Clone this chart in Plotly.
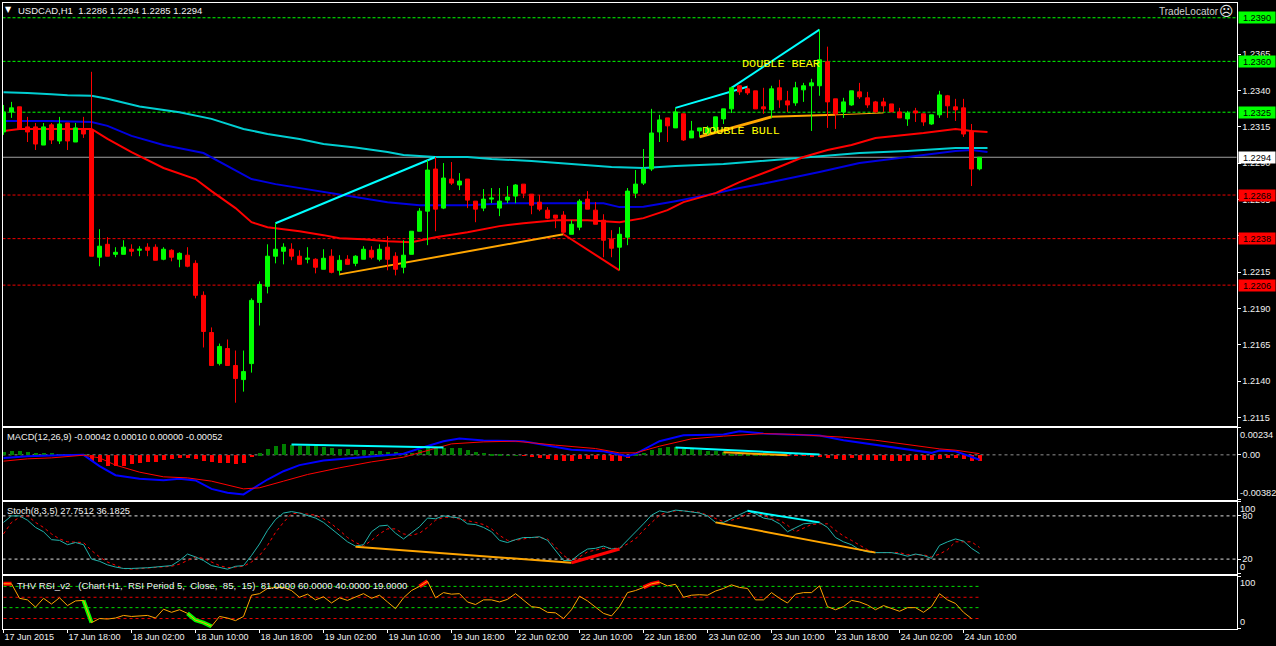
import plotly.graph_objects as go

# ---- prices, in units of 0.0001 ----
open_p = [12311.4,12325.2,12328.7,12314.9,12314.9,12302.4,12316.3,12305.2,12317.6,12304.5,
 12312.8,12312.8,12225.2,12234.1,12227.2,12227.2,12230.7,12230.0,12232.1,12232.1,
 12223.8,12230.0,12223.8,12226.6,12221.0,12199.0,12173.4,12152.0,12162.4,12150.7,
 12141.0,12152.0,12194.1,12205.2,12225.9,12229.3,12230.7,12225.9,12223.8,12223.8,
 12216.9,12225.9,12216.2,12223.8,12221.0,12223.8,12230.0,12223.8,12232.1,12225.9,
 12218.3,12227.2,12243.1,12256.9,12285.9,12259.0,12279.0,12274.9,12279.0,12263.8,
 12259.0,12265.2,12259.0,12264.5,12267.3,12275.5,12268.6,12263.1,12257.6,12254.2,
 12254.2,12241.0,12245.9,12265.2,12257.6,12250.7,12237.6,12232.1,12239.0,12269.3,
 12276.2,12285.9,12311.4,12321.1,12314.2,12323.9,12307.3,12312.1,12310.7,12312.8,
 12320.4,12327.3,12343.2,12341.1,12339.7,12328.7,12326.6,12341.8,12332.8,12331.4,
 12340.4,12343.2,12343.2,12359.7,12334.2,12325.2,12330.0,12339.0,12334.9,12332.1,
 12332.1,12330.7,12325.2,12320.4,12325.9,12323.9,12316.9,12323.2,12336.3,12328.7,
 12328.0,12312.1,12286.0]
high_p = [12330.0,12332.1,12328.7,12321.8,12317.6,12317.6,12317.6,12321.8,12317.6,12317.6,
 12321.8,12352.8,12244.5,12239.0,12232.1,12236.9,12234.1,12232.8,12234.8,12234.1,
 12232.1,12230.7,12228.6,12232.1,12223.1,12201.7,12176.9,12165.8,12168.6,12161.0,
 12161.0,12196.9,12208.6,12234.1,12248.6,12234.8,12234.8,12230.0,12232.1,12224.5,
 12230.7,12230.7,12226.6,12226.6,12226.6,12232.8,12232.8,12234.1,12239.7,12228.6,
 12236.9,12243.1,12259.0,12292.1,12294.2,12290.0,12290.7,12283.1,12279.0,12263.8,
 12272.1,12272.8,12272.8,12274.2,12275.5,12275.5,12268.6,12268.0,12259.7,12254.2,
 12256.9,12250.7,12265.2,12270.7,12263.1,12254.8,12243.8,12245.9,12272.8,12285.2,
 12299.7,12327.3,12323.2,12321.1,12328.0,12323.9,12319.0,12314.2,12315.6,12321.8,
 12327.3,12342.5,12343.2,12343.2,12339.7,12341.8,12343.2,12347.3,12339.7,12345.9,
 12345.2,12348.0,12381.8,12370.1,12334.2,12334.9,12339.7,12345.2,12339.0,12332.8,
 12334.9,12330.7,12328.0,12325.9,12328.0,12323.9,12323.2,12339.7,12336.9,12334.2,
 12334.2,12316.9,12294.0]
low_p = [12309.4,12321.1,12313.5,12304.5,12299.0,12302.4,12303.1,12303.1,12299.0,12304.5,
 12307.3,12225.9,12219.0,12225.9,12225.2,12227.2,12225.9,12225.9,12225.9,12223.1,
 12223.1,12222.4,12218.3,12218.3,12196.9,12163.1,12150.7,12150.7,12150.7,12125.1,
 12132.7,12145.8,12178.2,12200.3,12221.0,12220.3,12223.1,12220.3,12221.0,12214.1,
 12216.9,12214.1,12212.7,12220.3,12219.0,12223.8,12223.8,12222.4,12216.2,12212.7,
 12214.1,12227.2,12243.1,12233.5,12243.1,12258.3,12274.9,12271.4,12259.0,12249.3,
 12256.9,12262.4,12253.5,12262.4,12262.4,12265.9,12254.8,12256.9,12251.4,12245.2,
 12241.0,12241.0,12243.8,12258.3,12247.9,12225.2,12225.2,12216.2,12233.5,12265.9,
 12274.9,12284.5,12304.5,12304.5,12314.2,12305.2,12307.3,12308.0,12309.4,12311.4,
 12316.9,12324.5,12336.9,12336.9,12327.3,12323.9,12321.1,12328.0,12325.2,12329.4,
 12332.1,12312.1,12336.3,12314.2,12313.5,12321.1,12329.4,12334.2,12328.0,12324.5,
 12325.2,12325.2,12321.1,12315.6,12318.3,12315.6,12316.3,12321.1,12321.1,12319.0,
 12308.0,12274.2,12285.0]
close_p = [12325.2,12328.0,12313.5,12311.4,12303.1,12314.9,12305.9,12316.9,12305.2,12314.2,
 12310.0,12225.9,12232.8,12225.9,12228.6,12232.1,12229.3,12230.7,12230.0,12223.1,
 12230.7,12225.2,12227.9,12219.0,12199.0,12174.1,12150.7,12163.8,12150.7,12141.7,
 12146.5,12195.5,12206.5,12225.9,12230.7,12232.1,12225.9,12220.3,12224.5,12218.3,
 12224.5,12214.8,12223.1,12220.3,12225.9,12230.7,12225.2,12230.7,12223.8,12216.9,
 12226.6,12243.1,12256.9,12285.2,12258.3,12279.7,12276.2,12277.6,12264.5,12258.3,
 12265.2,12265.9,12263.8,12266.6,12274.9,12269.3,12261.0,12258.3,12252.1,12252.1,
 12242.4,12247.9,12263.8,12258.3,12247.9,12236.9,12231.4,12241.0,12270.7,12275.5,
 12285.9,12310.7,12319.7,12315.6,12325.2,12305.9,12312.1,12314.2,12314.2,12321.8,
 12327.3,12341.8,12339.0,12338.3,12327.3,12327.3,12341.1,12333.5,12330.0,12341.8,
 12343.2,12345.2,12361.1,12332.1,12323.9,12332.1,12339.7,12335.6,12330.0,12325.2,
 12329.4,12325.2,12321.1,12324.5,12324.5,12318.3,12323.2,12336.9,12329.4,12326.6,
 12310.0,12285.9,12294.0]

ma_long_bars = [0,3,6,8,11,13,17,22,26,30,33,37,40,44,48,50,54,58,61,66,71,76,80,84,90,98,102,107,113,119,123]
ma_long = [12338.7,12338.3,12337.3,12336.6,12336.3,12334.2,12329.0,12324.9,12320.4,12313.5,12310.0,12306.6,12303.1,12300.7,12297.6,12295.5,12294.2,12294.2,12292.8,12291.4,12289.3,12287.3,12286.6,12287.9,12289.3,12292.8,12294.9,12296.9,12298.3,12300.4,12300.4]
ma_mid_bars = [0,6,11,13,16,20,25,28,31,34,38,40,44,48,52,58,63,69,75,77,80,84,88,92,96,102,107,113,119,121,123]
ma_mid = [12319.0,12319.0,12318.3,12315.6,12308.7,12302.4,12296.9,12287.9,12279.0,12275.5,12272.1,12270.0,12266.6,12263.1,12261.0,12261.0,12262.4,12262.4,12262.4,12259.7,12260.0,12263.8,12268.0,12272.8,12276.9,12283.8,12290.0,12294.2,12298.3,12299.0,12297.6]
ma_fast_bars = [0,2,11,13,16,20,24,26,29,31,33,37,40,42,45,48,51,54,58,62,65,69,73,77,80,83,85,89,92,96,100,103,106,109,115,119,121,123]
ma_fast = [12312.1,12313.5,12313.5,12306.6,12297.6,12286.6,12279.0,12270.7,12259.0,12249.3,12245.9,12243.1,12240.4,12238.3,12237.6,12236.2,12235.5,12239.0,12242.4,12246.6,12248.6,12250.7,12250.7,12249.3,12252.1,12257.6,12263.1,12269.3,12276.9,12285.2,12294.2,12299.0,12302.4,12307.3,12310.7,12313.5,12312.1,12311.4]

# trend segments: (first bar, last bar, first price, last price, colour, width)
price_segments = [
 (34,54,12248.6,12294.2,"#00ffff",2),
 (84,93,12328.0,12342.5,"#00ffff",2),
 (91,102,12341.8,12381.8,"#00ffff",2),
 (42,70,12213.4,12241.0,"#ffa500",2),
 (70,77,12241.0,12216.2,"#ff0000",2),
 (87,96,12308.0,12321.8,"#ffa500",3),
 (96,104,12321.8,12323.2,"#ffa500",2),
 (104,110,12323.2,12324.5,"#ffa500",1),
]

resistance_levels = [1.2390,1.2360,1.2325]
support_levels = [1.2268,1.2238,1.2206]
last_price = 1.2294
price_ticks = [1.2115,1.2140,1.2165,1.2190,1.2215,1.2240,1.2265,1.2290,1.2315,1.2340,1.2365]
date_labels = ["17 Jun 2015","17 Jun 18:00","18 Jun 02:00","18 Jun 10:00","18 Jun 18:00","19 Jun 02:00","19 Jun 10:00","19 Jun 18:00","22 Jun 02:00","22 Jun 10:00","22 Jun 18:00","23 Jun 02:00","23 Jun 10:00","23 Jun 18:00","24 Jun 02:00","24 Jun 10:00"]
date_bars = list(range(0,128,8))

# MACD, in units of 0.00001
macd_hist = [31,37,37,26,17,17,17,9,9,9,6,-48,-60,-88,-88,-88,-74,-63,-60,-54,-40,-31,-23,-23,-31,-46,-60,-63,-66,-74,-66,-11,
 17,54,80,97,88,80,80,80,71,63,54,54,46,46,37,37,31,29,20,20,46,60,60,60,66,60,46,26,20,11,9,3,1,-3,-14,-20,-31,-40,-46,-46,
 -31,-31,-31,-40,-46,-46,-20,11,23,46,60,71,71,57,51,46,40,37,26,14,9,6,3,3,3,3,-1,-3,-3,-6,-6,-20,-31,-40,-26,-40,-40,-43,-40,
 -46,-46,-46,-40,-40,-40,-29,-20,-23,-31,-46,-52]
macd_bars = [0,3,6,10,12,14,17,20,22,24,26,28,30,31,33,35,37,40,43,46,50,52,55,57,60,65,69,71,75,78,79,82,85,90,92,95,98,102,105,109,113,116,117,119,122]
macd_line = [-26,-11,-6,0,-97,-174,-205,-217,-205,-219,-291,-325,-339,-296,-211,-140,-88,-48,-31,-11,9,54,117,140,123,117,66,43,31,-11,9,117,168,174,202,182,174,165,125,88,46,17,37,31,-42]
signal_bars = [0,3,6,10,12,14,17,20,23,26,30,32,35,38,42,46,50,52,56,60,64,69,74,77,79,82,86,90,95,99,105,109,113,117,119,122]
signal_line = [-54,-34,-26,-3,-26,-88,-148,-188,-197,-225,-291,-282,-225,-168,-111,-60,-20,17,94,111,117,83,54,17,17,74,137,160,182,174,151,125,88,51,40,10]
macd_segments = [(36,55,88,63,"#00ffff",2),(84,102,62,3,"#00ffff",2),(90,98,22,-3,"#ffa500",2)]

stoch_main = [71,80,80,74,64,58,47,46,40,43,40,20,17,12,9,7,7,7,8,9,10,11,18,27,23,18,11,9,6,10,11,25,41,60,75,84,86,84,80,77,71,62,54,44,38,40,58,66,67,56,48,57,65,
 77,76,80,78,77,69,68,64,58,46,43,47,50,50,51,46,32,18,18,27,34,35,38,34,35,46,57,69,81,87,85,88,87,86,84,80,71,71,76,81,87,83,77,75,69,58,64,69,70,71,64,50,
 44,40,33,30,29,29,29,27,24,27,25,21,39,44,48,45,35,27.75]
stoch_signal = [55,71,78,80,71,64,55,48,44,43,43,32,23,16,11,7,6,7,7,9,9,10,13,18,23,21,16,11,8,9,10,16,25,39,57,71,83,84,83,81,76,69,60,50,43,38,46,55,62,62,55,53,56,
 64,74,78,78,76,74,71,68,62,53,46,46,48,50,50,48,37,25,18,23,30,33,35,35,35,41,48,60,71,81,85,87,87,86,85,81,76,72,74,77,83,84,81,76,74,67,58,63,68,69,69,60,
 52,46,40,33,29,29,29,29,26,26,26,23,27,33,44,44,44,36.18]
stoch_levels = [80,20]
stoch_segments = [(44,71,37,15,"#ffa500",2),(71,77,15,34,"#ff0000",3),(89,109,71,29,"#ffa500",2),(93,102,87,71,"#00ffff",2)]

rsi_line = [86,86,58,55,41,58,47,59,44,53,54,11,19,18,20,25,23,24,25,20,37,31,36,29,16,11,4,23,20,15,23,64,67,77,79,79,73,60,66,55,61,49,59,54,60,67,58,64,51,38,59,73,81,
 91,59,69,66,67,51,46,55,55,51,56,67,55,42,40,31,30,19,36,62,53,41,29,24,42,69,73,79,86,89,82,85,60,64,65,64,72,77,84,79,77,55,55,69,58,49,66,69,69,82,42,36,
 42,54,51,45,36,44,39,33,40,40,31,42,67,55,48,31,19]
rsi_levels = [81,60,40,19]
rsi_level_colours = ["#00e000","#f00000","#00e000","#f00000"]
rsi_hot = [(0,1,"#ff0000"),(52,53,"#ff0000"),(80,82,"#ff0000"),(10,11,"#00ff00"),(23,26,"#00ff00")]

FONT = "Liberation Sans"
TXT = "#f0f0f0"
L, R = 2.5, 1236.5
def ydom(top, bottom):
    return [1 - bottom/646, 1 - top/646]
def px(v):
    return [a/1e4 for a in v]

bars = list(range(len(close_p)))
XR = [-0.125, 154.125]
fig = go.Figure()

def line(x, y, color, width, xa="x", ya="y", dash=None, shape=None):
    fig.add_trace(go.Scatter(x=x, y=y, mode="lines", xaxis=xa, yaxis=ya, showlegend=False, hoverinfo="skip",
                             line=dict(color=color, width=width, dash=dash, shape=shape)))

# main panel
line(ma_long_bars, px(ma_long), "#00ced1", 2)
line(ma_mid_bars, px(ma_mid), "#0000e0", 2)
line(ma_fast_bars, px(ma_fast), "#ff0000", 2)
for b0, b1, p0, p1, c, w in price_segments:
    line([b0, b1], px([p0, p1]), c, w)
fig.add_trace(go.Candlestick(x=bars, open=px(open_p), high=px(high_p), low=px(low_p), close=px(close_p),
    xaxis="x", yaxis="y5", showlegend=False, hoverinfo="skip", whiskerwidth=0,
    increasing=dict(line=dict(color="#00ff00", width=1), fillcolor="#00ff00"),
    decreasing=dict(line=dict(color="#ff0000", width=1), fillcolor="#ff0000")))

# MACD
hist = [v*1e-5 for v in macd_hist]
fig.add_trace(go.Bar(x=bars, y=hist, xaxis="x2", yaxis="y2", width=0.42, showlegend=False, hoverinfo="skip",
                     marker=dict(color=["#008000" if v > 0 else "#ff0000" for v in hist], line=dict(width=0))))
line(macd_bars, [v*1e-5 for v in macd_line], "#0000ff", 2, "x2", "y2")
line(signal_bars, [v*1e-5 for v in signal_line], "#ff0000", 1, "x2", "y2")
for b0, b1, p0, p1, c, w in macd_segments:
    line([b0, b1], [p0*1e-5, p1*1e-5], c, w, "x2", "y2")

# Stochastic
line(bars, stoch_signal, "#ff0000", 1, "x3", "y3", dash="3px,3px")
line(bars, stoch_main, "#20b2aa", 1, "x3", "y3")
for b0, b1, p0, p1, c, w in stoch_segments:
    line([b0, b1], [p0, p1], c, w, "x3", "y3")

# RSI
for lvl, c in zip(rsi_levels, rsi_level_colours):
    line([bars[0], bars[-1]], [lvl, lvl], c, 1, "x4", "y4", dash="3px,3px")
for b0, b1, c in rsi_hot:
    line(bars[b0:b1+1], rsi_line[b0:b1+1], c, 4, "x4", "y4")
line(bars[:len(rsi_line)], rsi_line, "#ffa500", 1, "x4", "y4")

shapes = []
def hl(y, color, yref, dash):
    shapes.append(dict(type="line", xref="paper", x0=L/1276, x1=R/1276, yref=yref, y0=y, y1=y, layer="below",
                       line=dict(color=color, width=1, dash=dash)))
for v in resistance_levels:
    hl(v, "#00ff00", "y", "3px,2px")
for v in support_levels:
    hl(v, "#f00000", "y", "3px,2px")
hl(last_price, "#a0a0a0", "y", "solid")
hl(0, "#909090", "y2", "3px,3px")
for v in stoch_levels:
    hl(v, "#e0e0e0", "y3", "3px,3px")

ann = []
def text(s, x, y, size=10, color=TXT, xanchor="left", yanchor="middle", family=FONT):
    ann.append(dict(text=s, xref="paper", yref="paper", x=x/1276, y=1-y/646, xanchor=xanchor, yanchor=yanchor,
                    showarrow=False, font=dict(family=family, size=size, color=color), borderpad=0, borderwidth=0))
text("▼", 5, 10, 8, "#ffffff", family="DejaVu Sans")
text("USDCAD,H1\u00a0\u00a01.2286 1.2294 1.2285 1.2294", 18, 10.5, 9.5)
text("TradeLocator", 1219, 11.5, 10, "#d0d0d0", xanchor="right")
text("☹", 1219, 11, 14, "#e8e8e8", family="DejaVu Sans")
text("MACD(12,26,9) -0.00042 0.00010 0.00000 -0.00052", 7, 436.5, 9.3)
text("Stoch(8,3,5) 27.7512 36.1825", 7, 510.5, 9.3)
text("THV RSI_v2\u00a0\u00a0\u00a0(Chart H1,\u00a0\u00a0RSI Period 5,\u00a0\u00a0Close,\u00a0\u00a085,\u00a0\u00a015)\u00a0\u00a081.0000 60.0000 40.0000 19.0000", 17, 585, 9.6)
text("0.00234", 1240, 434.5, 9.2)
text("-0.00382", 1240, 492.5, 9.2)
text("100", 1240, 508.5, 9.2)
text("0", 1240, 567, 9.2)
text("100", 1240, 582.5, 9.2)
text("0", 1240, 622, 9.2)

for s, x, p in [("DOUBLE BEAR", 92.0, 1.23583), ("DOUBLE BULL", 87.0, 1.23121)]:
    ann.append(dict(text=s, xref="x", yref="y", x=x, y=p, xanchor="left", yanchor="middle", showarrow=False,
                    font=dict(family="Liberation Mono", size=11.8, color="#ffff00")))
for v, bg in [(x, "#00ff00") for x in resistance_levels] + [(last_price, "#ffffff")] + [(x, "#ff0000") for x in support_levels]:
    ann.append(dict(text=f"{v:.4f}", xref="paper", yref="y", x=1238/1276, y=v, xanchor="left", yanchor="middle",
                    showarrow=False, bgcolor=bg, width=36, height=11, borderpad=0, align="center",
                    font=dict(family=FONT, size=9.2, color="#000000")))

def xax(domain_anchor, **kw):
    d = dict(domain=[L/1276, R/1276], range=XR, anchor=domain_anchor, showgrid=False, zeroline=False, showline=True,
             mirror=True, linecolor="#ffffff", linewidth=1, ticks="", showticklabels=False, fixedrange=True)
    d.update(kw)
    return d
def yax(top, bottom, rng, vals, labels, **kw):
    d = dict(domain=ydom(top, bottom), range=rng, side="right", showgrid=False, zeroline=False, showline=True,
             mirror=True, linecolor="#ffffff", linewidth=1, ticks="outside", ticklen=3, tickwidth=1, tickcolor="#ffffff",
             tickvals=vals, ticktext=labels, tickfont=dict(family=FONT, size=9.2, color=TXT), tickangle=0, fixedrange=True)
    d.update(kw)
    return d

PRICE_RANGE = [1.21094, 1.24005]
fig.update_layout(
    width=1276, height=646, autosize=False, margin=dict(l=0, r=0, t=0, b=0, pad=0),
    paper_bgcolor="#000000", plot_bgcolor="#000000", showlegend=False, bargap=0, boxgap=0.5, boxgroupgap=0, barmode="overlay",
    shapes=shapes, annotations=ann,
    xaxis=xax("y", rangeslider=dict(visible=False)),
    xaxis2=xax("y2"), xaxis3=xax("y3"),
    xaxis4=xax("y4", ticks="outside", ticklen=3, tickwidth=1, tickcolor="#ffffff", showticklabels=True,
               tickvals=date_bars, ticktext=date_labels, ticklabelposition="outside right", tickangle=0,
               tickfont=dict(family=FONT, size=9, color=TXT)),
    yaxis=yax(2.5, 425.5, PRICE_RANGE, price_ticks, [f"{v:.4f}" for v in price_ticks], anchor="x"),
    yaxis2=yax(427.5, 499.5, [-0.00382, 0.00234], [0.00234, 0, -0.00382], ["", "0.00", ""], anchor="x2"),
    yaxis3=yax(501.5, 573.5, [0, 100], [100, 80, 20, 0], ["", "80", "20", ""], anchor="x3"),
    yaxis4=yax(575.5, 628.5, [-0.2, 102], [100, 0], ["", ""], anchor="x4"),
    yaxis5=dict(domain=ydom(2.5, 425.5), range=PRICE_RANGE, overlaying="y", anchor="x", side="right", visible=False,
                showgrid=False, zeroline=False, fixedrange=True),
)
fig.write_html("out.html", config={"displayModeBar": False},
               post_script="document.body.style.margin='0';document.body.style.background='#000';")
